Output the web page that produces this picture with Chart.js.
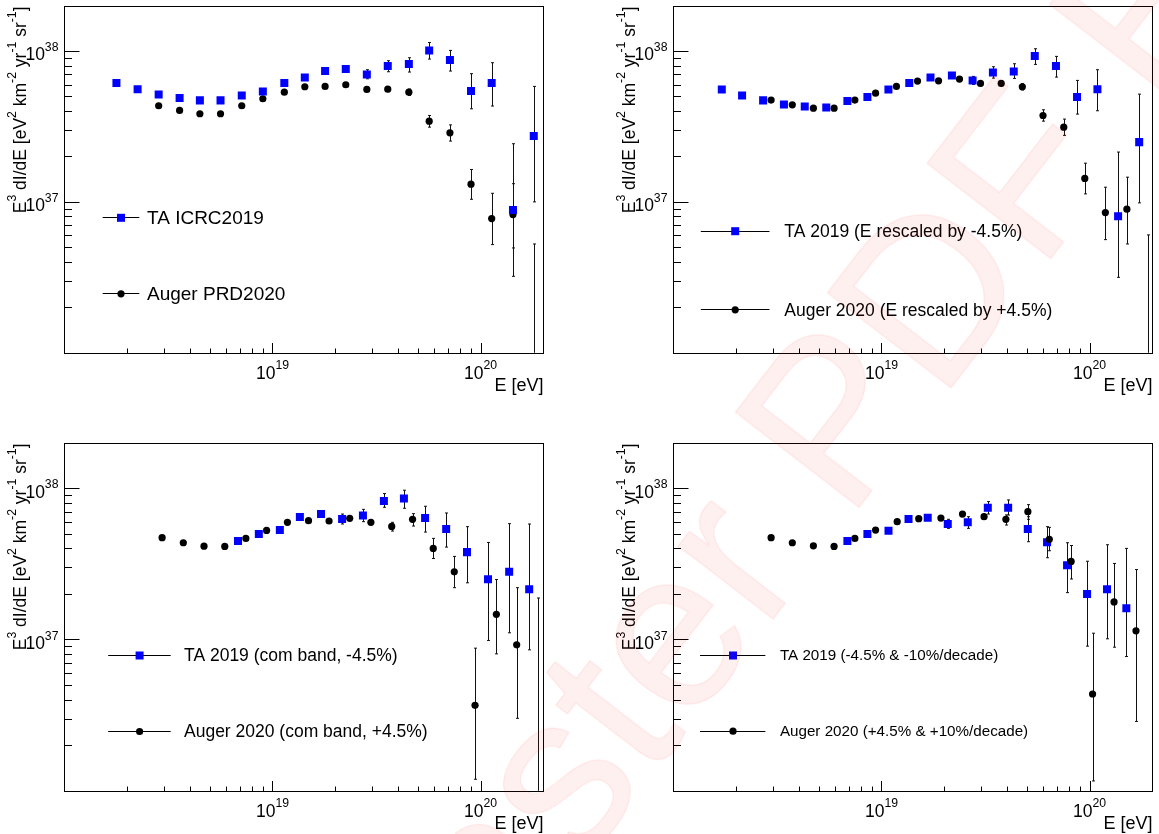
<!DOCTYPE html>
<html>
<head>
<meta charset="utf-8">
<script src="https://cdn.jsdelivr.net/npm/chart.js@4.4.1/dist/chart.umd.min.js"></script>
<style>
  html, body { margin: 0; padding: 0; background: #fff; }
  body { width: 1159px; height: 834px; position: relative; overflow: hidden;
         font-family: "Liberation Sans", Arial, Helvetica, sans-serif; }
  canvas { position: absolute; }
  #wm { position: absolute; left: 388px; top: 928px; font-size: 226px; line-height: 1;
        white-space: nowrap; color: rgba(255, 0, 0, 0.06);
        -webkit-text-stroke: 1px rgba(255, 0, 0, 0.10);
        transform-origin: 0 191px; transform: rotate(-52.4deg); pointer-events: none; }
</style>
</head>
<body>
<canvas id="c1" width="580" height="417" style="left:0;top:0"></canvas>
<canvas id="c2" width="579" height="417" style="left:580px;top:0"></canvas>
<canvas id="c3" width="580" height="417" style="left:0;top:417px"></canvas>
<canvas id="c4" width="579" height="417" style="left:580px;top:417px"></canvas>
<div id="wm">Master PDF Editor</div>
<script>
// axis ranges / decades (log10)
const xRange = [1e18, 2e20];
const yRange = [1e36, 2e38];
const xDecades = [18, 19, 20];
const yDecades = [36, 37, 38];

// ---- panel 1: TA ICRC2019 / Auger PRD2020
const taE1 = [1.78e18, 2.25e18, 2.84e18, 3.58e18, 4.48e18, 5.63e18, 7.12e18, 8.99e18, 1.14e19, 1.43e19, 1.79e19,
  2.25e19, 2.84e19, 3.58e19, 4.52e19, 5.66e19, 7.12e19, 8.99e19, 1.13e20, 1.43e20, 1.80e20];
const taF1 = [6.13e37, 5.59e37, 5.16e37, 4.88e37, 4.71e37, 4.71e37, 5.08e37, 5.40e37, 6.13e37, 6.69e37, 7.37e37,
  7.60e37, 7.00e37, 7.95e37, 8.20e37, 1.01e38, 8.71e37, 5.43e37, 6.13e37, 8.85e36, 2.73e37];
const taHi1 = [6.25e37, 5.70e37, 5.26e37, 4.98e37, 4.81e37, 4.81e37, 5.19e37, 5.53e37, 6.30e37, 6.90e37, 7.62e37,
  7.95e37, 7.52e37, 8.63e37, 9.03e37, 1.14e38, 1.01e38, 7.08e37, 8.37e37, 2.43e37, 5.83e37];
const taLo1 = [6.01e37, 5.48e37, 5.06e37, 4.78e37, 4.61e37, 4.61e37, 4.97e37, 5.27e37, 5.96e37, 6.48e37, 7.12e37,
  7.27e37, 6.55e37, 7.29e37, 7.26e37, 8.85e37, 7.37e37, 4.14e37, 4.32e37, 3.21e36, 1.00e37];

const auE1 = [2.84e18, 3.58e18, 4.48e18, 5.63e18, 7.12e18, 8.99e18, 1.14e19, 1.43e19, 1.79e19, 2.25e19, 2.84e19,
  3.58e19, 4.52e19, 5.66e19, 7.12e19, 8.99e19, 1.13e20, 1.43e20, 1.80e20];
const auF1 = [4.34e37, 4.04e37, 3.84e37, 3.84e37, 4.34e37, 4.83e37, 5.34e37, 5.80e37, 5.83e37, 5.98e37, 5.57e37,
  5.59e37, 5.34e37, 3.43e37, 2.87e37, 1.31e37, 7.75e36, 8.24e36, 6e35];
const auHi1 = [4.38e37, 4.08e37, 3.88e37, 3.88e37, 4.39e37, 4.89e37, 5.42e37, 5.90e37, 5.95e37, 6.13e37, 5.75e37,
  5.80e37, 5.60e37, 3.74e37, 3.24e37, 1.64e37, 1.14e37, 1.32e37, 5.26e36];
const auLo1 = [4.30e37, 4.00e37, 3.80e37, 3.80e37, 4.29e37, 4.77e37, 5.26e37, 5.70e37, 5.71e37, 5.83e37, 5.39e37,
  5.38e37, 5.08e37, 3.13e37, 2.53e37, 1.04e37, 5.21e36, 4.95e36, 1e34];

// ---- panel 2: energies rescaled by -/+4.5%
const taE2 = [1.71e18, 2.14e18, 2.70e18, 3.40e18, 4.28e18, 5.43e18, 6.86e18, 8.56e18, 1.08e19, 1.36e19, 1.72e19,
  2.18e19, 2.74e19, 3.43e19, 4.32e19, 5.45e19, 6.89e19, 8.70e19, 1.09e20, 1.37e20, 1.73e20];
const taF2 = [5.57e37, 5.08e37, 4.71e37, 4.43e37, 4.29e37, 4.23e37, 4.66e37, 4.95e37, 5.57e37, 6.13e37, 6.69e37,
  6.89e37, 6.39e37, 7.22e37, 7.33e37, 9.26e37, 7.95e37, 4.95e37, 5.59e37, 8.03e36, 2.49e37];
const taHi2 = [5.68e37, 5.18e37, 4.80e37, 4.52e37, 4.38e37, 4.32e37, 4.76e37, 5.07e37, 5.72e37, 6.32e37, 6.92e37,
  7.20e37, 6.79e37, 7.87e37, 8.24e37, 1.036e38, 9.22e37, 6.39e37, 7.52e37, 2.14e37, 5.18e37];
const taLo2 = [5.46e37, 4.98e37, 4.62e37, 4.34e37, 4.20e37, 4.14e37, 4.56e37, 4.83e37, 5.42e37, 5.94e37, 6.46e37,
  6.58e37, 6.01e37, 6.62e37, 6.59e37, 8.16e37, 6.72e37, 3.82e37, 4.02e37, 3.16e36, 9.85e36];

const auE2 = [2.95e18, 3.73e18, 4.71e18, 5.92e18, 7.45e18, 9.37e18, 1.18e19, 1.49e19, 1.88e19, 2.37e19, 2.99e19,
  3.76e19, 4.75e19, 5.97e19, 7.51e19, 9.48e19, 1.19e20, 1.51e20, 1.90e20];
const auF2 = [4.73e37, 4.40e37, 4.18e37, 4.18e37, 4.73e37, 5.26e37, 5.83e37, 6.32e37, 6.35e37, 6.52e37, 6.10e37,
  6.10e37, 5.80e37, 3.74e37, 3.13e37, 1.43e37, 8.50e36, 8.94e36, 6e35];
const auHi2 = [4.77e37, 4.44e37, 4.22e37, 4.22e37, 4.78e37, 5.32e37, 5.91e37, 6.43e37, 6.48e37, 6.68e37, 6.30e37,
  6.33e37, 6.08e37, 4.08e37, 3.54e37, 1.805e37, 1.251e37, 1.458e37, 6.04e36];
const auLo2 = [4.69e37, 4.36e37, 4.14e37, 4.14e37, 4.68e37, 5.20e37, 5.75e37, 6.21e37, 6.22e37, 6.36e37, 5.90e37,
  5.87e37, 5.52e37, 3.43e37, 2.76e37, 1.13e37, 5.62e36, 5.26e36, 1e34];

// ---- panel 3: common declination band
const taE3 = [6.83e18, 8.60e18, 1.085e19, 1.354e19, 1.711e19, 2.16e19, 2.72e19, 3.43e19, 4.28e19, 5.41e19,
  6.83e19, 8.60e19, 1.085e20, 1.371e20, 1.711e20];
const taF3 = [4.47e37, 4.98e37, 5.29e37, 6.45e37, 6.75e37, 6.26e37, 6.59e37, 8.24e37, 8.54e37, 6.35e37,
  5.37e37, 3.78e37, 2.50e37, 2.80e37, 2.15e37];
const taHi3 = [4.60e37, 5.12e37, 5.45e37, 6.65e37, 7.00e37, 6.75e37, 7.25e37, 9.22e37, 9.70e37, 7.60e37,
  6.86e37, 5.57e37, 4.38e37, 5.83e37, 5.80e37];
const taLo3 = [4.34e37, 4.84e37, 5.13e37, 6.25e37, 6.50e37, 5.80e37, 6.01e37, 7.48e37, 7.37e37, 5.13e37,
  4.08e37, 2.37e37, 9.85e36, 1.107e37, 8.54e36];

const auE3 = [2.95e18, 3.73e18, 4.69e18, 5.90e18, 7.45e18, 9.37e18, 1.18e19, 1.49e19, 1.87e19, 2.35e19, 2.97e19,
  3.74e19, 4.71e19, 5.92e19, 7.47e19, 9.40e19, 1.19e20, 1.49e20, 1.88e20];
const auF3 = [4.71e37, 4.36e37, 4.14e37, 4.12e37, 4.66e37, 5.26e37, 5.95e37, 6.10e37, 6.07e37, 6.32e37, 5.95e37,
  5.59e37, 6.23e37, 4.00e37, 2.80e37, 3.67e36, 1.466e37, 9.22e36, 6e35];
const auHi3 = [4.75e37, 4.40e37, 4.18e37, 4.16e37, 4.71e37, 5.32e37, 6.03e37, 6.20e37, 6.19e37, 6.48e37, 6.15e37,
  5.95e37, 6.79e37, 4.66e37, 3.54e37, 8.76e36, 2.49e37, 2.20e37, 1.88e37];
const auLo3 = [4.67e37, 4.32e37, 4.10e37, 4.08e37, 4.61e37, 5.20e37, 5.87e37, 6.00e37, 5.95e37, 6.16e37, 5.75e37,
  5.21e37, 5.62e37, 3.43e37, 2.20e37, 1.19e36, 8.03e36, 3.01e36, 1e34];

// ---- panel 4: +/-4.5% and +/-10%/decade
const taE4 = [6.86e18, 8.56e18, 1.081e19, 1.349e19, 1.668e19, 2.082e19, 2.598e19, 3.242e19, 4.06e19, 5.045e19,
  6.245e19, 7.79e19, 9.72e19, 1.212e20, 1.501e20];
const taF4 = [4.47e37, 4.98e37, 5.24e37, 6.26e37, 6.39e37, 5.80e37, 5.95e37, 7.44e37, 7.44e37, 5.37e37,
  4.40e37, 3.10e37, 2.00e37, 2.15e37, 1.61e37];
const taHi4 = [4.60e37, 5.12e37, 5.40e37, 6.45e37, 6.60e37, 6.23e37, 6.48e37, 8.16e37, 8.37e37, 6.48e37,
  5.57e37, 4.36e37, 3.29e37, 4.23e37, 4.00e37];
const taLo4 = [4.34e37, 4.84e37, 5.08e37, 6.08e37, 6.20e37, 5.43e37, 5.43e37, 6.75e37, 6.65e37, 4.43e37,
  3.47e37, 2.04e37, 9.03e36, 1.01e37, 7.71e36];

const auE4 = [2.95e18, 3.73e18, 4.71e18, 5.92e18, 7.45e18, 9.37e18, 1.19e19, 1.51e19, 1.93e19, 2.45e19, 3.11e19,
  3.96e19, 5.05e19, 6.40e19, 8.15e19, 1.033e20, 1.31e20, 1.67e20];
const auF4 = [4.71e37, 4.36e37, 4.16e37, 4.12e37, 4.66e37, 5.29e37, 6.01e37, 6.29e37, 6.35e37, 6.75e37, 6.48e37,
  6.23e37, 7.00e37, 4.59e37, 3.28e37, 4.36e36, 1.77e37, 1.141e37];
const auHi4 = [4.75e37, 4.40e37, 4.20e37, 4.16e37, 4.71e37, 5.35e37, 6.09e37, 6.40e37, 6.50e37, 6.95e37, 6.72e37,
  6.66e37, 7.79e37, 5.51e37, 4.18e37, 1.10e37, 3.18e37, 2.90e37];
const auLo4 = [4.67e37, 4.32e37, 4.12e37, 4.08e37, 4.61e37, 5.23e37, 5.93e37, 6.18e37, 6.20e37, 6.55e37, 6.24e37,
  5.71e37, 6.23e37, 3.86e37, 2.51e37, 1.16e36, 8.89e36, 2.87e36];

const FONT = '"Liberation Sans", Arial, Helvetica, sans-serif';
const yTitle = [{ t: 'E' }, { t: '3', sup: true }, { t: ' dI/dE [eV' }, { t: '2', sup: true }, { t: ' km' },
  { t: '-2', sup: true }, { t: ' yr' }, { t: '-1', sup: true }, { t: ' sr' }, { t: '-1', sup: true }, { t: ']' }];

function richWidth(ctx, parts, size) {
  let w = 0;
  parts.forEach(p => {
    ctx.font = (p.sup ? size * 0.7 : size) + 'px ' + FONT;
    w += ctx.measureText(p.t).width;
  });
  return w;
}

function drawRich(ctx, parts, x, y, size) {
  let cx = x;
  parts.forEach(p => {
    ctx.font = (p.sup ? size * 0.7 : size) + 'px ' + FONT;
    ctx.fillText(p.t, cx, p.sup ? y - size * 0.52 : y);
    cx += ctx.measureText(p.t).width;
  });
}

function isDecade(v) {
  const l = Math.log10(v);
  return Math.abs(l - Math.round(l)) < 1e-6;
}

function logTicks(decades, range) {
  return axis => {
    const t = [];
    decades.forEach(d => {
      for (let m = 1; m <= 9; m++) {
        const v = m * Math.pow(10, d);
        if (v >= range[0] * 0.999 && v <= range[1] * 1.001) t.push({ value: v });
      }
    });
    axis.ticks = t;
  };
}

// error bars (behind the markers)
const errorBars = {
  id: 'errorBars',
  beforeDatasetsDraw(chart) {
    const { ctx, chartArea: a, scales: { x, y } } = chart;
    ctx.save();
    ctx.beginPath();
    ctx.rect(a.left, a.top, a.right - a.left, a.bottom - a.top);
    ctx.clip();
    ctx.strokeStyle = '#111';
    ctx.lineWidth = 1;
    chart.data.datasets.forEach(ds => {
      ctx.beginPath();
      ds.data.forEach((p, i) => {
        const px = Math.round(x.getPixelForValue(p.x)) + 0.5;
        const yh = y.getPixelForValue(ds.hi[i]);
        const yl = y.getPixelForValue(ds.lo[i]);
        ctx.moveTo(px, yh); ctx.lineTo(px, yl);
        ctx.moveTo(px - 1.5, yh); ctx.lineTo(px + 1.5, yh);
        ctx.moveTo(px - 1.5, yl); ctx.lineTo(px + 1.5, yl);
      });
      ctx.stroke();
    });
    ctx.restore();
  }
};

// ROOT-like frame, inner ticks, 10^n labels and axis titles
const rootAxes = {
  id: 'rootAxes',
  afterDatasetsDraw(chart) {
    const { ctx, chartArea: a, scales: { x, y } } = chart;
    const L = Math.round(a.left) + 0.5, R = Math.round(a.right) + 0.5;
    const T = Math.round(a.top) + 0.5, B = Math.round(a.bottom) + 0.5;
    ctx.save();
    ctx.strokeStyle = '#000';
    ctx.lineWidth = 1;
    ctx.strokeRect(L, T, R - L, B - T);
    ctx.beginPath();
    x.ticks.forEach(t => {
      const px = Math.round(x.getPixelForValue(t.value)) + 0.5;
      if (px <= L + 1 || px >= R - 1) return;
      ctx.moveTo(px, B);
      ctx.lineTo(px, B - (isDecade(t.value) ? 10.5 : 5));
    });
    y.ticks.forEach(t => {
      const py = Math.round(y.getPixelForValue(t.value)) + 0.5;
      if (py <= T + 1 || py >= B - 1) return;
      ctx.moveTo(L, py);
      ctx.lineTo(L + (isDecade(t.value) ? 15 : 7.5), py);
    });
    ctx.stroke();

    ctx.fillStyle = '#000';
    ctx.textBaseline = 'alphabetic';
    ctx.textAlign = 'left';
    const fs = 17.5;
    x.ticks.forEach(t => {
      const px = x.getPixelForValue(t.value);
      if (!isDecade(t.value) || px <= L + 1 || px >= R - 1) return;
      const parts = [{ t: '10' }, { t: String(Math.round(Math.log10(t.value))), sup: true }];
      drawRich(ctx, parts, px - richWidth(ctx, parts, fs) / 2, B + 25, fs);
    });
    y.ticks.forEach(t => {
      const py = y.getPixelForValue(t.value);
      if (!isDecade(t.value) || py <= T + 1 || py >= B - 1) return;
      const parts = [{ t: '10' }, { t: String(Math.round(Math.log10(t.value))), sup: true }];
      drawRich(ctx, parts, L - 6 - richWidth(ctx, parts, fs), py + 9.3, fs);
    });

    // x title, right aligned with frame
    const xt = [{ t: 'E [eV]' }];
    drawRich(ctx, xt, R - richWidth(ctx, xt, 18), B + 37, 18);

    // y title, rotated, ends at frame top
    ctx.translate(L - 39, T);
    ctx.rotate(-Math.PI / 2);
    drawRich(ctx, yTitle, -richWidth(ctx, yTitle, 17.5), 0, 17.5);
    ctx.restore();
  }
};

// legend drawn like the ROOT TLegend
const rootLegend = {
  id: 'rootLegend',
  afterDraw(chart, args, opts) {
    const { ctx } = chart;
    ctx.save();
    opts.entries.forEach(e => {
      const ds = chart.data.datasets[e.ds];
      ctx.strokeStyle = '#000';
      ctx.lineWidth = 1;
      ctx.beginPath();
      ctx.moveTo(opts.x0, Math.round(e.y) + 0.5);
      ctx.lineTo(opts.x1, Math.round(e.y) + 0.5);
      ctx.stroke();
      ctx.fillStyle = ds.pointBackgroundColor;
      if (ds.pointStyle === 'rect') {
        const h = ds.pointRadius * Math.SQRT1_2;
        ctx.fillRect(opts.xm - h, e.y - h + 0.5, 2 * h, 2 * h);
      } else {
        ctx.beginPath();
        ctx.arc(opts.xm, e.y + 0.5, ds.pointRadius, 0, Math.PI * 2);
        ctx.fill();
      }
      ctx.fillStyle = '#000';
      ctx.font = opts.size + 'px ' + FONT;
      ctx.textBaseline = 'alphabetic';
      ctx.fillText(e.text, opts.tx, e.y + opts.size * 0.36);
    });
    ctx.restore();
  }
};

function pts(xs, ys) {
  return xs.map((v, i) => ({ x: v, y: ys[i] }));
}

function taSet(E, F, hi, lo) {
  return { data: pts(E, F), hi: hi, lo: lo, pointStyle: 'rect', pointRadius: 5.66,
    pointBackgroundColor: '#0000ff', pointBorderWidth: 0, showLine: false, clip: 0 };
}
function auSet(E, F, hi, lo) {
  return { data: pts(E, F), hi: hi, lo: lo, pointStyle: 'circle', pointRadius: 3.6,
    pointBackgroundColor: '#000000', pointBorderWidth: 0, showLine: false, clip: 0 };
}

function makePanel(id, datasets, pad, legend) {
  new Chart(document.getElementById(id), {
    type: 'scatter',
    data: { datasets: datasets },
    options: {
      responsive: false,
      animation: false,
      devicePixelRatio: 1,
      events: [],
      layout: { padding: pad },
      scales: {
        x: {
          type: 'logarithmic', min: xRange[0], max: xRange[1],
          grid: { display: false }, border: { display: false },
          ticks: { display: false, autoSkip: false },
          afterBuildTicks: logTicks(xDecades, xRange),
          afterFit: s => { s.height = 0; }
        },
        y: {
          type: 'logarithmic', min: yRange[0], max: yRange[1],
          grid: { display: false }, border: { display: false },
          ticks: { display: false, autoSkip: false },
          afterBuildTicks: logTicks(yDecades, yRange),
          afterFit: s => { s.width = 0; }
        }
      },
      plugins: {
        legend: { display: false },
        tooltip: { enabled: false },
        rootLegend: legend
      }
    },
    plugins: [errorBars, rootAxes, rootLegend]
  });
}

makePanel('c1', [taSet(taE1, taF1, taHi1, taLo1), auSet(auE1, auF1, auHi1, auLo1)],
  { left: 64.3, top: 5, right: 36.7, bottom: 64.3 },
  { x0: 102.7, x1: 139.3, xm: 121, tx: 147, size: 19,
    entries: [{ ds: 0, y: 217.3, text: 'TA ICRC2019' }, { ds: 1, y: 293.3, text: 'Auger PRD2020' }] });

makePanel('c2', [taSet(taE2, taF2, taHi2, taLo2), auSet(auE2, auF2, auHi2, auLo2)],
  { left: 93.3, top: 5, right: 6.7, bottom: 64.3 },
  { x0: 120.8, x1: 189.5, xm: 155.2, tx: 204.3, size: 17.5,
    entries: [{ ds: 0, y: 230.7, text: 'TA 2019 (E rescaled by -4.5%)' },
              { ds: 1, y: 309.3, text: 'Auger 2020 (E rescaled by +4.5%)' }] });

makePanel('c3', [auSet(auE3, auF3, auHi3, auLo3), taSet(taE3, taF3, taHi3, taLo3)],
  { left: 64.3, top: 25.7, right: 36.7, bottom: 43.3 },
  { x0: 108.2, x1: 170.7, xm: 139.6, tx: 184, size: 17.5,
    entries: [{ ds: 1, y: 238, text: 'TA 2019 (com band, -4.5%)' },
              { ds: 0, y: 314, text: 'Auger 2020 (com band, +4.5%)' }] });

makePanel('c4', [auSet(auE4, auF4, auHi4, auLo4), taSet(taE4, taF4, taHi4, taLo4)],
  { left: 93.3, top: 25.7, right: 6.7, bottom: 43.3 },
  { x0: 120, x1: 185.4, xm: 153, tx: 199.9, size: 15.2,
    entries: [{ ds: 1, y: 238, text: 'TA 2019 (-4.5% & -10%/decade)' },
              { ds: 0, y: 313.7, text: 'Auger 2020 (+4.5% & +10%/decade)' }] });
</script>
</body>
</html>
